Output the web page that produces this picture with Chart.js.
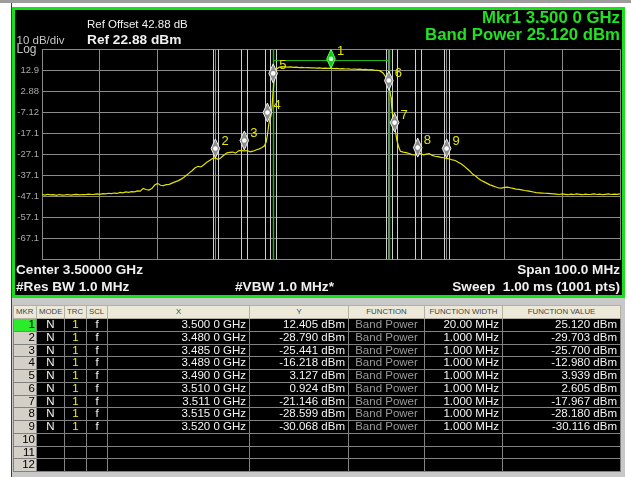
<!DOCTYPE html>
<html lang="en">
<head>
  <meta charset="UTF-8" />
  <title>Band Power - Spectrum</title>
  <script src="https://cdn.jsdelivr.net/npm/chart.js"></script>
  <style>
    * { box-sizing: border-box; }
    body {
      margin: 0;
      width: 631px;
      height: 477px;
      background: #ffffff;
      position: relative;
      overflow: hidden;
      font-family: 'Liberation Sans', Arial, sans-serif;
    }
    .topbar { position: absolute; left: 0; top: 0; width: 631px; height: 3px; background: #9c9c9c; }
    .edge { position: absolute; left: 11px; top: 3px; width: 1px; height: 474px; background: #404040; }

    /* instrument screen */
    #screen {
      position: absolute;
      left: 12px; top: 7px;
      width: 613px; height: 291px;
      background: #000;
      border: 3px solid #18e018;
    }
    #plot { position: absolute; left: 0; top: 0; }
    .t { position: absolute; line-height: 1; white-space: pre; }
    .white { color: #f0f0f0; }
    .grey { color: #c4c4c4; }
    .green { color: #22e022; font-weight: bold; }

    /* marker table */
    .panel { position: absolute; left: 12px; top: 298px; width: 613px; height: 179px; background: #c8c8c8; }
    #mk {
      position: absolute;
      left: 13px; top: 305px;
      width: 607px;
      border-collapse: collapse;
      table-layout: fixed;
      font-size: 11.5px;
    }
    #mk th {
      height: 13px;
      background: #ece9d8;
      color: #454545;
      font-size: 7.8px;
      font-weight: normal;
      border: 1px solid #b4b0a4;
      padding: 0 2px;
      line-height: 1;
    }
    #mk td {
      height: 12.75px;
      background: #000;
      color: #f4f4f4;
      border: 1px solid #828282;
      padding: 0 3px;
      line-height: 1;
      white-space: nowrap;
      overflow: hidden;
    }
    #mk td.num { background: #d4d0c8; color: #000; text-align: right; padding-right: 1px; }
    #mk td.num.on { background: #2cea2c; }
    #mk td.c { text-align: center; }
    #mk td.r { text-align: right; }
    #mk td.yel { color: #f2f200; }
    #mk td.fn { color: #9a9a9a; text-align: center; }
  </style>
</head>
<body>
  <div class="topbar"></div>
  <div class="edge"></div>
  <div id="screen"></div>

  <canvas id="plot" width="631" height="300"></canvas>

  <!-- screen annotations -->
  <div class="t white" style="left:87px;top:19.2px;font-size:11.5px;">Ref Offset 42.88 dB</div>
  <div class="t white" style="left:87px;top:32.7px;font-size:13.7px;font-weight:bold;">Ref 22.88 dBm</div>
  <div class="t grey" style="left:16.5px;top:35.3px;font-size:11.5px;">10 dB/div</div>
  <div class="t grey" style="left:16.5px;top:43px;font-size:12px;">Log</div>
  <div class="t green" style="right:11px;top:10.4px;font-size:16.8px;">Mkr1 3.500 0 GHz</div>
  <div class="t green" style="right:11px;top:26.6px;font-size:16.8px;">Band Power 25.120 dBm</div>
  <div class="t white" style="left:16px;top:263.2px;font-size:13.6px;font-weight:bold;">Center 3.50000 GHz</div>
  <div class="t white" style="left:16px;top:279.5px;font-size:13.6px;font-weight:bold;">#Res BW 1.0 MHz</div>
  <div class="t white" style="left:235px;top:279.5px;font-size:13.6px;font-weight:bold;">#VBW 1.0 MHz*</div>
  <div class="t white" style="right:11px;top:263.2px;font-size:13.6px;font-weight:bold;">Span 100.0 MHz</div>
  <div class="t white" style="right:11px;top:279.5px;font-size:13.6px;font-weight:bold;">Sweep  1.00 ms (1001 pts)</div>

  <div class="panel"></div>
  <table id="mk">
    <colgroup>
      <col style="width:23px"><col style="width:28px"><col style="width:22px"><col style="width:21px">
      <col style="width:142px"><col style="width:99px"><col style="width:76px"><col style="width:78px"><col style="width:118px">
    </colgroup>
    <thead>
      <tr>
        <th style="text-align:left">MKR</th><th style="text-align:left">MODE</th><th style="text-align:left">TRC</th><th style="text-align:left">SCL</th>
        <th>X</th><th>Y</th><th>FUNCTION</th><th>FUNCTION WIDTH</th><th>FUNCTION VALUE</th>
      </tr>
    </thead>
    <tbody></tbody>
  </table>

  <script>
    // ---- axis layout (GHz / dBm) ----
    const xGrid = [3.45, 3.46, 3.47, 3.48, 3.49, 3.50, 3.51, 3.52, 3.53, 3.54, 3.55];
    const yGrid = [-77.12, -67.12, -57.12, -47.12, -37.12, -27.12, -17.12, -7.12, 2.88, 12.88, 22.88];
    const yTickLabels = ['', '-67.1', '-57.1', '-47.1', '-37.1', '-27.1', '-17.1', '-7.12', '2.88', '12.9', ''];

    // ---- trace 1 ----
    const traceFreq = [
      3.4500, 3.4505, 3.4510, 3.4515, 3.4520, 3.4525, 3.4530, 3.4535, 3.4540, 3.4545,
      3.4550, 3.4555, 3.4560, 3.4565, 3.4570, 3.4575, 3.4580, 3.4585, 3.4590, 3.4595,
      3.4600, 3.4605, 3.4610, 3.4615, 3.4620, 3.4625, 3.4630, 3.4635, 3.4640, 3.4645,
      3.4650, 3.4655, 3.4660, 3.4665, 3.4670, 3.4675, 3.4680, 3.4685, 3.4690, 3.4695,
      3.4700, 3.4705, 3.4710, 3.4715, 3.4720, 3.4725, 3.4730, 3.4735, 3.4740, 3.4745,
      3.4750, 3.4755, 3.4760, 3.4765, 3.4770, 3.4775, 3.4780, 3.4785, 3.4790, 3.4795,
      3.4800, 3.4805, 3.4810, 3.4815, 3.4820, 3.4825, 3.4830, 3.4835, 3.4840, 3.4845,
      3.4850, 3.4855, 3.4860, 3.4865, 3.4870, 3.4875, 3.4880, 3.4885, 3.4888, 3.4890,
      3.4892, 3.4894, 3.4896, 3.4898, 3.4900, 3.4902, 3.4905, 3.4910, 3.4915, 3.4920,
      3.4925, 3.4930, 3.4935, 3.4940, 3.4945, 3.4950, 3.4955, 3.4960, 3.4965, 3.4970,
      3.4975, 3.4980, 3.4985, 3.4990, 3.4995, 3.5000, 3.5005, 3.5010, 3.5015, 3.5020,
      3.5025, 3.5030, 3.5035, 3.5040, 3.5045, 3.5050, 3.5055, 3.5060, 3.5065, 3.5070,
      3.5075, 3.5080, 3.5085, 3.5090, 3.5094, 3.5097, 3.5100, 3.5102, 3.5104, 3.5105,
      3.5108, 3.5111, 3.5114, 3.5117, 3.5120, 3.5125, 3.5130, 3.5135, 3.5140, 3.5145,
      3.5150, 3.5155, 3.5160, 3.5165, 3.5170, 3.5175, 3.5180, 3.5185, 3.5190, 3.5195,
      3.5200, 3.5205, 3.5210, 3.5215, 3.5220, 3.5225, 3.5230, 3.5235, 3.5240, 3.5245,
      3.5250, 3.5255, 3.5260, 3.5265, 3.5270, 3.5275, 3.5280, 3.5285, 3.5290, 3.5295,
      3.5300, 3.5305, 3.5310, 3.5315, 3.5320, 3.5325, 3.5330, 3.5335, 3.5340, 3.5345,
      3.5350, 3.5355, 3.5360, 3.5365, 3.5370, 3.5375, 3.5380, 3.5385, 3.5390, 3.5395,
      3.5400, 3.5405, 3.5410, 3.5415, 3.5420, 3.5425, 3.5430, 3.5435, 3.5440, 3.5445,
      3.5450, 3.5455, 3.5460, 3.5465, 3.5470, 3.5475, 3.5480, 3.5485, 3.5490, 3.5495,
      3.5500
    ];
    const traceLevel = [
      -46.2, -46.5, -46.1, -46.4, -46.3, -46.6, -46.2, -46.5, -46.4, -46.2,
      -46.5, -46.3, -46.1, -46.4, -46.2, -46.3, -46.0, -46.2, -46.1, -45.9,
      -46.1, -45.8, -45.9, -45.6, -45.8, -45.5, -45.7, -45.2, -45.4, -45.0,
      -45.2, -44.8, -44.9, -44.5, -44.6, -43.3, -43.8, -44.1, -43.4, -41.7,
      -40.9, -41.8, -42.0, -41.5, -41.4, -40.8, -40.2, -39.7, -39.0, -38.1,
      -37.0, -35.9, -34.8, -33.5, -32.8, -33.1, -32.0, -30.9, -30.0, -29.1,
      -28.8, -29.6, -28.6, -27.4, -26.4, -26.2, -26.0, -26.5, -25.4, -25.2,
      -25.4, -25.3, -25.9, -25.6, -25.0, -24.6, -24.0, -23.0, -21.0, -18.0,
      -13.5, -10.5, -9.0, -4.0, 3.1, 9.8, 13.3, 14.3, 14.6, 14.5,
      14.4, 14.5, 14.3, 14.4, 14.2, 14.3, 14.1, 14.2, 14.0, 14.1,
      13.9, 14.0, 13.8, 13.9, 13.8, 13.9, 13.7, 13.8, 13.6, 13.7,
      13.5, 13.6, 13.4, 13.5, 13.3, 13.4, 13.2, 13.3, 13.1, 13.2,
      13.0, 12.9, 12.6, 11.6, 10.0, 8.0, 5.0, 2.5, 0.0, -4.4,
      -12.3, -15.5, -20.3, -23.5, -25.6, -26.0, -26.3, -26.7, -27.2, -27.4,
      -27.0, -26.7, -27.3, -27.0, -26.7, -27.6, -28.0, -28.2, -28.5, -28.7,
      -29.0, -29.3, -29.7, -30.0, -30.9, -31.6, -32.6, -33.8, -35.0, -36.5,
      -37.4, -38.6, -39.5, -40.2, -40.9, -41.6, -42.1, -42.6, -43.1, -43.2,
      -42.8, -42.7, -43.0, -43.3, -43.6, -43.8, -44.0, -44.3, -44.5, -44.7,
      -45.0, -45.3, -45.4, -45.5, -45.6, -45.7, -45.8, -45.9, -46.0, -46.2,
      -45.9, -46.1, -46.3, -46.0, -46.2, -45.9, -46.1, -46.3, -46.0, -46.2,
      -46.1, -45.9, -46.2, -46.0, -46.3, -46.1, -45.9, -46.2, -46.0, -46.1,
      -45.9
    ];

    // ---- markers (table values + where the symbols sit on screen) ----
    const markerFreq = [3.500, 3.480, 3.485, 3.489, 3.490, 3.510, 3.511, 3.515, 3.520];
    const markerY = [12.405, -28.790, -25.441, -16.218, 3.127, 0.924, -21.146, -28.599, -30.068];
    const markerWidthMHz = [20, 1, 1, 1, 1, 1, 1, 1, 1];
    const markerBandPower = [25.120, -29.703, -25.700, -12.980, 3.939, 2.605, -17.967, -28.180, -30.116];
    const markerTipLevel = [13.8, -28.8, -25.0, -11.7, 6.9, 3.5, -16.5, -28.4, -28.8];
    const bandLineLevel = 17.8;

    const fmtFreq = f => f.toFixed(4).replace(/(\d)$/, ' $1') + ' GHz';
    const fmtWidth = w => (w >= 10 ? w.toFixed(2) : w.toFixed(3)) + ' MHz';

    // marker band edges, symbols and labels
    const markerPlugin = {
      id: 'markers',
      beforeDatasetsDraw(chart) {
        const { ctx, chartArea: a, scales: { x, y } } = chart;
        ctx.save();
        ctx.beginPath(); ctx.rect(a.left, a.top, a.width, a.height); ctx.clip();
        for (let i = markerFreq.length - 1; i >= 0; i--) {
          const half = markerWidthMHz[i] / 2000;
          ctx.strokeStyle = i === 0 ? '#1cb41c' : '#cfcfcf';
          ctx.lineWidth = i === 0 ? 1.5 : 1;
          [markerFreq[i] - half, markerFreq[i] + half].forEach(e => {
            const px = Math.round(x.getPixelForValue(e)) + 0.5;
            ctx.beginPath(); ctx.moveTo(px, a.top); ctx.lineTo(px, a.bottom); ctx.stroke();
          });
        }
        // band power level line of marker 1
        const yb = Math.round(y.getPixelForValue(bandLineLevel)) + 0.5;
        ctx.strokeStyle = '#1cb41c'; ctx.lineWidth = 1;
        ctx.beginPath();
        ctx.moveTo(x.getPixelForValue(markerFreq[0] - markerWidthMHz[0] / 2000), yb);
        ctx.lineTo(x.getPixelForValue(markerFreq[0] + markerWidthMHz[0] / 2000), yb);
        ctx.stroke();
        ctx.restore();
      },
      afterDatasetsDraw(chart) {
        const { ctx, scales: { x, y } } = chart;
        ctx.save();
        markerFreq.forEach((f, i) => {
          const px = x.getPixelForValue(f);
          const tip = y.getPixelForValue(markerTipLevel[i]);
          const cy = tip - 9.5;
          ctx.beginPath();
          ctx.moveTo(px, tip - 19); ctx.lineTo(px + 4.3, cy);
          ctx.lineTo(px, tip); ctx.lineTo(px - 4.3, cy); ctx.closePath();
          ctx.fillStyle = i === 0 ? '#12c812' : '#8c8c8c';
          ctx.fill();
          ctx.strokeStyle = i === 0 ? '#5cff5c' : '#f0f0f0';
          ctx.lineWidth = 1;
          ctx.stroke();
          ctx.beginPath(); ctx.arc(px, cy, 2.3, 0, Math.PI * 2);
          ctx.fillStyle = i === 0 ? '#d8ffd8' : '#ffffff';
          ctx.fill();
          ctx.fillStyle = '#e6e600';
          ctx.font = '13px "Liberation Sans", Arial, sans-serif';
          ctx.textBaseline = 'middle';
          ctx.textAlign = 'left';
          ctx.fillText(String(i + 1), px + 6, tip - 17);
        });
        ctx.restore();
      }
    };

    const gridColor = '#8a8a8a';
    new Chart(document.getElementById('plot'), {
      type: 'line',
      data: {
        datasets: [{
          data: traceFreq.map((f, i) => ({ x: f, y: traceLevel[i] })),
          borderColor: '#e2e200',
          borderWidth: 1.2,
          pointRadius: 0,
          tension: 0
        }]
      },
      options: {
        responsive: false,
        animation: false,
        devicePixelRatio: 1,
        layout: { padding: { left: 14, top: 49.3, right: 11, bottom: 40.5 } },
        plugins: { legend: { display: false }, tooltip: { enabled: false } },
        scales: {
          x: {
            type: 'linear', min: 3.45, max: 3.55,
            afterBuildTicks: s => { s.ticks = xGrid.map(v => ({ value: v })); },
            afterFit: s => { s.height = 0; },
            ticks: { display: false },
            grid: { color: gridColor, drawTicks: false },
            border: { color: gridColor }
          },
          y: {
            min: -77.12, max: 22.88,
            afterBuildTicks: s => { s.ticks = yGrid.map(v => ({ value: v })); },
            afterFit: s => { s.width = 28; },
            ticks: {
              callback: (v, i) => yTickLabels[i],
              color: '#a8a8a8',
              padding: 3,
              font: { family: '"Liberation Sans", Arial, sans-serif', size: 9.5 }
            },
            grid: { color: gridColor, drawTicks: false },
            border: { color: gridColor }
          }
        }
      },
      plugins: [markerPlugin]
    });

    // ---- marker table ----
    const tbody = document.querySelector('#mk tbody');
    for (let r = 0; r < 12; r++) {
      const tr = document.createElement('tr');
      const has = r < markerFreq.length;
      const cells = [
        [String(r + 1), 'num' + (r === 0 ? ' on' : '')],
        [has ? 'N' : '', 'c'],
        [has ? '1' : '', 'c yel'],
        [has ? 'f' : '', 'c'],
        [has ? fmtFreq(markerFreq[r]) : '', 'r'],
        [has ? markerY[r].toFixed(3) + ' dBm' : '', 'r'],
        [has ? 'Band Power' : '', 'fn'],
        [has ? fmtWidth(markerWidthMHz[r]) : '', 'r'],
        [has ? markerBandPower[r].toFixed(3) + ' dBm' : '', 'r']
      ];
      cells.forEach(([txt, cls]) => {
        const td = document.createElement('td');
        td.className = cls;
        td.textContent = txt;
        tr.appendChild(td);
      });
      tbody.appendChild(tr);
    }
  </script>
</body>
</html>
